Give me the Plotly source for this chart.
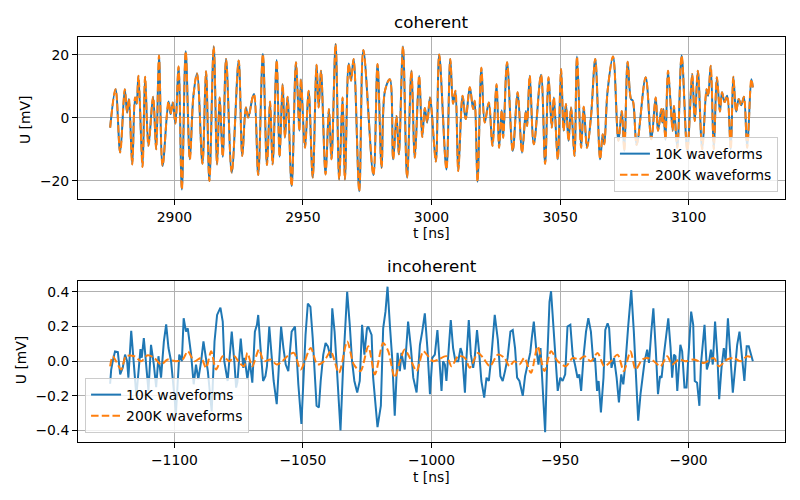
import plotly.graph_objects as go

# ---------------- coherent (t [ns], U [mV]) ----------------
coh_t = [2875, 2877.1, 2878.9, 2880.7, 2881.6, 2882.3, 2883.6, 2884.7, 2885.3, 2886.0,
         2887.6, 2888.6, 2889.9, 2891.7, 2892.9, 2894.0, 2895.4, 2897.7, 2898.5, 2899.4,
         2900.4, 2901.6, 2902.9, 2904.4, 2906.0, 2907.4, 2908.8, 2910.9, 2912.3, 2913.6,
         2915.3, 2916.6, 2917.6, 2918.8, 2920.1, 2922.3, 2925.0, 2926.4, 2927.8, 2928.7,
         2930.4, 2931.0, 2932.6, 2934.4, 2936.0, 2937.2, 2938.2, 2939.8, 2940.9, 2942.1,
         2943.0, 2944.0, 2945.6, 2947.3, 2948.6, 2949.2, 2950.8, 2952.2, 2953.8, 2955.3,
         2956.1, 2957.0, 2958.8, 2960.1, 2961.1, 2962.7, 2964.1, 2965.4, 2966.3, 2967.8,
         2968.7, 2969.7, 2971.9, 2973.5, 2977.4, 2979.0, 2980.6, 2981.9, 2983.8, 2985.1,
         2986.4, 2987.3, 2988.9, 2990.5, 2992.2, 2993.5, 2995.2, 2996.4, 2997.4, 2998.3,
         2999.4, 3000.0, 3001.7, 3003.0, 3005.8, 3007.3, 3008.4, 3009.3, 3010.4, 3012.1,
         3013.3, 3014.9, 3016.2, 3016.8, 3017.9, 3019.4, 3020.7, 3022.3, 3023.7, 3025.3,
         3026.3, 3027.3, 3027.9, 3029.4, 3031.6, 3033.5, 3035.2, 3036.7, 3037.2, 3038.2,
         3039.8, 3042.6, 3044.2, 3045.5, 3046.8, 3047.6, 3049.1, 3050.4, 3051.4, 3052.3,
         3053.3, 3054.3, 3055.6, 3056.6, 3058.2, 3059.2, 3060.5, 3062.0, 3063.7, 3065.6,
         3066.6, 3067.2, 3068.5, 3070.6, 3072.7, 3074.0, 3075.0, 3076.3, 3077.6, 3078.3,
         3079.8, 3083.3, 3085.5, 3087.2, 3088.1, 3089.4, 3089.8, 3090.2, 3091.0, 3092.0,
         3093.8, 3094.3, 3095.6, 3097.3, 3099.5, 3101.4, 3102.4, 3103.6, 3105.3, 3107.0,
         3107.6, 3108.6, 3109.8, 3111.0, 3112.2, 3113.0, 3114.0, 3115.0, 3116.4, 3117.4,
         3118.5, 3119.5, 3120.5, 3121.5, 3122.8, 3124.4, 3125.0]
coh_10k = [-3.1, 9.1, -11.0, 9.1, 1.7, 6.0, -14.8, 6.5, 4.5, 13.4,
           -15.6, 13.1, -8.9, 6.7, -10.0, 19.8, -15.3, 5.2, 1.2, 4.9,
           -1.8, 16.3, -22.8, 21.2, -13.2, 7.0, 14.1, -14.6, 14.8, -20.1,
           22.7, -14.8, 6.5, -12.4, 18.7, -17.4, 18.2, -12.1, 3.3, 0.1,
           6.5, 7.6, -18.2, 20.3, -15.0, 5.2, -14.8, 18.4, -12.4, 10.7,
           -6.3, 6.7, -21.7, 17.7, -4.1, 12.3, -9.5, 8.6, -19.0, 16.9,
           3.3, 15.0, -18.0, 2.8, -13.2, 23.5, -19.6, 6.5, -19.6, 17.3,
           11.8, 18.7, -23.3, 21.6, -18.2, 17.1, -15.9, 8.6, 12.3, -13.2,
           0.6, -11.6, 22.7, -19.0, 15.0, -12.7, 13.4, -6.1, 3.1, -1.5,
           6.5, 2.8, -13.9, 20.1, -16.4, 18.7, 4.5, 8.6, -16.9, 7.0,
           -0.4, 9.7, 2.8, 5.4, -20.3, 15.9, -1.5, 4.9, -8.9, 10.7,
           -9.5, 2.4, -6.3, 17.7, -10.5, 8.1, -11.1, 2.2, -2.6, 13.4,
           -8.4, 13.7, -14.6, 12.9, -3.1, 6.5, -13.2, 15.5, -4.1, 4.4,
           -7.3, 3.3, -12.1, 19.5, -9.5, 3.5, -9.5, 0.0, 18.7, -13.2,
           -5.2, -8.4, 8.6, 19.5, -7.3, 2.2, -10.5, 17.8, 6.0, 5.4,
           -8.6, 12.9, -6.8, 6.5, -4.1, 2.8, -1.5, 2.8, -7.0, 15.0,
           -4.1, 3.8, -9.5, 19.8, -10.5, 13.9, -1.0, 15.0, -10.0, 9.1,
           7.0, 16.6, -10.0, 12.9, 2.0, 8.1, 5.0, 7.0, -10.0, 13.1,
           2.0, 6.0, 4.0, 6.7, -9.5, 12.3, 9.7]
# the 200K curve coincides with the 10K curve in the picture
coh_200k = list(coh_10k)

# ---------------- incoherent (t [ns], U [mV]) ----------------
inc_t_10k = [-1125.0, -1124.6, -1124.0, -1123.1, -1122.0, -1121.1, -1120.1, -1119.2, -1118.4, -1117.9,
             -1116.8, -1115.8, -1114.8, -1113.2, -1112.7, -1111.9, -1111.0, -1110.1, -1109.1, -1108.0,
             -1107.1, -1106.2, -1105.2, -1104.1, -1103.2, -1102.3, -1101.3, -1099.4, -1098.1, -1097.1,
             -1096.4, -1095.5, -1094.8, -1093.5, -1092.5, -1091.6, -1090.7, -1089.6, -1088.7, -1087.7,
             -1087.0, -1085.5, -1084.4, -1083.4, -1082.1, -1081.2, -1080.6, -1079.3, -1077.7, -1076.7,
             -1076.0, -1075.5, -1074.2, -1073.2, -1072.7, -1071.6, -1070.7, -1069.7, -1068.7, -1067.9,
             -1067.4, -1066.5, -1065.5, -1064.6, -1064.0, -1063.1, -1062.3, -1061.4, -1060.2, -1059.3,
             -1058.5, -1057.6, -1056.7, -1055.7, -1054.4, -1053.1, -1052.5, -1051.8, -1050.6, -1049.6,
             -1049.0, -1048.1, -1047.1, -1046.2, -1045.4, -1044.7, -1043.8, -1043.1, -1042.1, -1041.2,
             -1040.3, -1039.2, -1038.6, -1037.7, -1036.9, -1036.3, -1035.4, -1034.4, -1033.7, -1032.8,
             -1031.8, -1030.9, -1030.0, -1028.9, -1027.9, -1027.0, -1026.1, -1025.1, -1024.6, -1023.3,
             -1022.7, -1021.8, -1021.0, -1019.7, -1018.8, -1017.9, -1017.1, -1016.2, -1015.3, -1014.3,
             -1013.2, -1012.3, -1011.7, -1010.4, -1009.7, -1009.1, -1008.0, -1007.1, -1005.8, -1004.5,
             -1003.6, -1002.6, -1001.6, -1000.6, -999.7, -998.7, -997.7, -997.0, -996.1, -995.5,
             -994.8, -994.2, -993.3, -992.5, -991.6, -990.7, -989.6, -988.7, -988.1, -987.0,
             -986.4, -985.5, -984.7, -983.8, -983.2, -982.3, -981.5, -980.6, -979.5, -978.6,
             -977.7, -976.7, -975.4, -974.5, -974.2, -973.2, -972.3, -971.4, -970.4, -969.3,
             -968.4, -967.5, -966.7, -965.8, -964.5, -963.6, -962.5, -961.6, -961.0, -960.2,
             -959.3, -958.4, -957.6, -956.7, -955.8, -955.0, -954.1, -953.5, -952.6, -951.5,
             -950.9, -949.9, -949.0, -948.0, -947.1, -946.0, -945.1, -944.2, -943.2, -942.5,
             -941.8, -940.8, -939.9, -939.0, -938.0, -937.1, -936.4, -935.6, -935.0, -934.1,
             -933.1, -932.4, -931.5, -930.9, -930.0, -929.0, -928.0, -927.1, -926.2, -925.4,
             -924.5, -923.5, -922.8, -922.3, -921.3, -920.6, -919.6, -918.7, -918.0, -917.1,
             -916.1, -915.4, -914.5, -913.7, -912.8, -911.9, -911.1, -910.5, -909.6, -908.7,
             -907.9, -907.0, -906.4, -905.7, -905.1, -904.4, -903.8, -903.2, -902.5, -901.6,
             -900.8, -899.9, -899.0, -898.2, -897.6, -896.7, -895.8, -895.2, -894.4, -893.8,
             -892.9, -892.0, -891.3, -890.6, -889.7, -888.8, -888.1, -887.2, -886.3, -885.6,
             -884.7, -883.8, -882.8, -881.9, -881.1, -880.2, -879.6, -878.9, -878.3, -877.4,
             -876.6, -875.0]
inc_10k = [-0.13, -0.05, 0.0, 0.057, 0.053, -0.076, -0.038, 0.038, 0.0, -0.095,
           0.175, -0.02, -0.20, 0.07, 0.02, 0.133, 0.0, -0.17, 0.095, -0.02,
           -0.15, 0.029, -0.095, 0.114, 0.213, 0.076, 0.0, -0.30, 0.038, 0.0,
           0.248, 0.171, 0.19, 0.038, -0.133, -0.02, -0.105, 0.0, 0.114, 0.0,
           -0.057, -0.29, 0.114, 0.267, 0.309, 0.229, 0.0, -0.114, 0.171, 0.0,
           -0.152, -0.12, 0.13, -0.038, 0.02, -0.105, 0.0, -0.124, 0.171, 0.21,
           0.267, 0.076, -0.114, -0.086, -0.029, 0.2, 0.057, -0.114, -0.248, 0.019,
           0.2, 0.076, -0.019, -0.057, 0.171, 0.2, 0.038, -0.133, -0.362, -0.038,
           0.152, 0.333, 0.314, 0.133, -0.076, -0.257, -0.267, -0.114, 0.038, 0.105,
           0.086, 0.019, 0.305, 0.171, -0.019, -0.19, -0.4, -0.038, 0.171, 0.4,
           0.21, 0.0, -0.114, -0.181, -0.114, 0.21, 0.038, 0.19, 0.2, 0.152,
           -0.095, -0.276, -0.38, -0.257, 0.19, 0.286, 0.43, 0.21, 0.019, -0.314,
           0.048, -0.057, 0.048, -0.048, 0.105, 0.229, 0.076, -0.095, -0.18, 0.095,
           0.171, 0.276, 0.076, -0.19, 0.019, 0.038, 0.18, 0.038, -0.171, 0.0,
           -0.019, -0.114, 0.086, 0.238, 0.076, 0.0, 0.0, 0.076, 0.048, -0.181,
           0.019, 0.238, 0.038, -0.038, 0.019, 0.18, 0.057, -0.114, -0.21, -0.095,
           -0.114, 0.029, 0.267, 0.171, 0.124, -0.086, -0.114, -0.057, 0.019, 0.171,
           0.18, 0.076, -0.095, -0.114, -0.2, -0.086, -0.019, 0.048, 0.133, 0.229,
           0.076, -0.019, 0.076, -0.19, -0.41, 0.0, 0.343, 0.404, 0.19, -0.048,
           -0.171, -0.095, -0.114, -0.076, 0.2, 0.21, 0.038, -0.019, -0.095, -0.076,
           -0.171, 0.038, 0.171, 0.248, 0.171, 0.0, 0.019, -0.171, -0.114, -0.295,
           -0.095, 0.18, 0.219, 0.19, -0.038, 0.019, -0.095, -0.238, -0.076, -0.133,
           0.0, 0.2, 0.343, 0.41, 0.171, -0.038, -0.343, -0.19, -0.095, 0.0,
           0.067, -0.01, 0.171, 0.305, 0.076, -0.19, -0.086, -0.095, 0.038, 0.152,
           0.248, 0.076, -0.095, 0.038, 0.029, -0.171, -0.019, 0.095, 0.057, -0.152,
           -0.152, 0.076, 0.286, 0.21, -0.114, -0.124, -0.257, -0.019, 0.095, 0.21,
           -0.048, 0.0, 0.067, -0.019, 0.229, 0.029, -0.219, -0.038, 0.076, 0.0,
           0.248, 0.038, -0.181, -0.038, 0.095, 0.171, 0.076, -0.029, -0.114, 0.086,
           0.086, 0.0]

inc_t_200k = [-1125.0, -1124.0, -1122.7, -1120.7, -1118.8, -1115.6, -1113.0, -1110.4, -1107.8, -1105.2,
              -1102.6, -1099.4, -1096.8, -1094.8, -1092.2, -1089.6, -1087.7, -1085.7, -1083.8, -1081.2,
              -1078.6, -1076.7, -1074.7, -1072.9, -1071.6, -1069.7, -1067.1, -1065.2, -1062.6, -1060.2,
              -1058.0, -1056.1, -1053.5, -1050.9, -1047.0, -1044.4, -1041.8, -1039.2, -1036.0, -1032.8,
              -1030.2, -1027.6, -1024.6, -1022.0, -1018.8, -1016.8, -1014.3, -1012.3, -1010.4, -1008.4,
              -1005.8, -1003.2, -1001.3, -999.4, -997.4, -994.2, -992.2, -989.6, -987.0, -985.1,
              -981.9, -979.9, -977.3, -974.2, -971.6, -969.7, -967.8, -965.8, -963.9, -961.3,
              -958.7, -956.1, -953.5, -950.9, -947.7, -945.1, -942.5, -940.5, -938.0, -935.4,
              -932.8, -930.2, -927.6, -925.2, -922.6, -920.6, -918.0, -916.1, -913.5, -910.9,
              -908.3, -906.4, -903.8, -901.2, -897.9, -894.0, -890.2, -888.2, -885.0, -882.4,
              -879.8, -877.2, -875.0]
inc_200k = [-0.03, 0.029, 0.0, -0.048, 0.029, 0.029, 0.0, 0.034, 0.019, -0.019,
            0.01, 0.0, 0.01, 0.057, 0.0, 0.019, -0.038, 0.057, -0.048, 0.029,
            0.0, 0.029, -0.01, -0.029, 0.048, -0.029, 0.067, 0.0, 0.01, -0.019,
            0.0, 0.029, 0.048, -0.048, 0.076, -0.019, 0.0, 0.057, -0.067, 0.114,
            -0.019, -0.057, 0.086, -0.076, 0.105, 0.057, -0.095, 0.0, 0.067, 0.019,
            -0.057, 0.057, 0.029, 0.0, 0.01, 0.029, -0.029, 0.029, 0.019, -0.038,
            0.048, 0.019, -0.029, 0.038, 0.019, -0.029, 0.0, -0.019, 0.019, -0.067,
            0.086, -0.057, 0.057, 0.0, -0.029, 0.019, 0.01, 0.029, 0.0, 0.048,
            -0.029, 0.0, 0.038, -0.057, 0.057, -0.048, 0.01, 0.019, 0.0, -0.029,
            0.029, -0.019, 0.01, 0.0, 0.01, -0.01, 0.019, -0.029, 0.01, 0.019,
            0.0, 0.029, 0.019]

series_names = ["10K waveforms", "200K waveforms"]
x_ticks_coh = [2900, 2950, 3000, 3050, 3100]
x_ticks_inc = [-1100, -1050, -1000, -950, -900]
y_ticks_coh = [-20, 0, 20]
y_ticks_inc = [-0.4, -0.2, 0.0, 0.2, 0.4]

BLUE = "#1f77b4"
ORANGE = "#ff7f0e"
FONT = "DejaVu Sans"
DASH = "7.5px,3.2px"

fig = go.Figure()
fig.add_trace(go.Scatter(x=coh_t, y=coh_10k, mode="lines", name=series_names[0],
                         line=dict(color=BLUE, width=2, shape="spline", smoothing=1.0),
                         xaxis="x", yaxis="y", legend="legend"))
fig.add_trace(go.Scatter(x=coh_t, y=coh_200k, mode="lines", name=series_names[1],
                         line=dict(color=ORANGE, width=2, dash=DASH, shape="spline", smoothing=1.0),
                         xaxis="x", yaxis="y", legend="legend"))
fig.add_trace(go.Scatter(x=inc_t_10k, y=inc_10k, mode="lines", name=series_names[0],
                         line=dict(color=BLUE, width=2),
                         xaxis="x2", yaxis="y2", legend="legend2"))
fig.add_trace(go.Scatter(x=inc_t_200k, y=inc_200k, mode="lines", name=series_names[1],
                         line=dict(color=ORANGE, width=2, dash=DASH, shape="spline", smoothing=0.8),
                         xaxis="x2", yaxis="y2", legend="legend2"))

axis_common = dict(showline=True, mirror=True, linecolor="black", linewidth=1,
                   ticks="outside", ticklen=5, tickwidth=1, tickcolor="black",
                   showgrid=True, gridcolor="#b0b0b0", gridwidth=1, zeroline=False,
                   tickfont=dict(family=FONT, size=13.9, color="black"))

# the page body adds an 8px offset, so the canvas is 784x484 and margins are shifted accordingly
fig.update_layout(
    width=784, height=484,
    margin=dict(l=70, r=7, t=29, b=50),
    paper_bgcolor="white", plot_bgcolor="white",
    font=dict(family=FONT, size=13.9, color="black"),
    xaxis=dict(domain=[0, 1], anchor="y", range=[2862.5, 3137.5], tickvals=x_ticks_coh, **axis_common),
    yaxis=dict(domain=[0.6, 1], anchor="x", range=[-25.8, 25.7], tickvals=y_ticks_coh, **axis_common),
    xaxis2=dict(domain=[0, 1], anchor="y2", range=[-1137.5, -862.5], tickvals=x_ticks_inc, **axis_common),
    yaxis2=dict(domain=[0, 0.398], anchor="x2", range=[-0.466, 0.464], tickvals=y_ticks_inc,
                tickformat=".1f", **axis_common),
    legend=dict(x=0.99, xanchor="right", y=0.617, yanchor="bottom",
                bgcolor="rgba(255,255,255,0.8)", bordercolor="#cccccc", borderwidth=1,
                font=dict(family=FONT, size=13.9, color="black"), tracegroupgap=0),
    legend2=dict(x=0.01, xanchor="left", y=0.022, yanchor="bottom",
                 bgcolor="rgba(255,255,255,0.8)", bordercolor="#cccccc", borderwidth=1,
                 font=dict(family=FONT, size=13.9, color="black"), tracegroupgap=0),
    showlegend=True,
)

annos = [
    dict(text="coherent", x=0.5, y=1.037, font=dict(size=16.7)),
    dict(text="incoherent", x=0.5, y=0.4346, font=dict(size=16.7)),
    dict(text="t [ns]", x=0.5, y=0.516, font=dict(size=13.9)),
    dict(text="t [ns]", x=0.5, y=-0.0864, font=dict(size=13.9)),
    dict(text="U [mV]", x=-0.075, y=0.795, font=dict(size=13.9), textangle=-90),
    dict(text="U [mV]", x=-0.0806, y=0.202, font=dict(size=13.9), textangle=-90),
]
for a in annos:
    fig.add_annotation(xref="paper", yref="paper", showarrow=False,
                       xanchor="center", yanchor="middle",
                       font_family=FONT, font_color="black",
                       **{k: v for k, v in a.items()})

fig.write_html("out.html")
